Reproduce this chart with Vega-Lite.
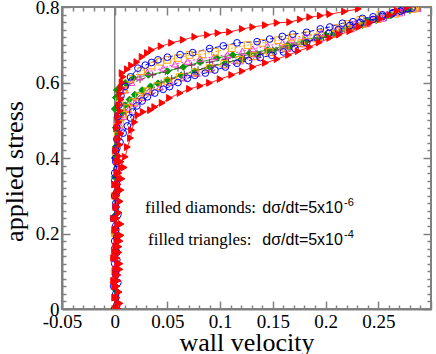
{
  "$schema": "https://vega.github.io/schema/vega-lite/v6.json",
  "width": 369,
  "height": 302,
  "autosize": {"type": "none"},
  "padding": {"left": 62, "top": 7, "right": 5, "bottom": 45},
  "background": "white",
  "config": {
    "view": {"stroke": "#808080", "strokeWidth": 2}
  },
  "datasets": {
    "curves": [
      {"s":"P","b":"u","x":0.000,"y":0.00},{"s":"P","b":"u","x":0.001,"y":0.15},{"s":"P","b":"u","x":0.000,"y":0.30},{"s":"P","b":"u","x":0.002,"y":0.45},{"s":"P","b":"u","x":0.003,"y":0.52},{"s":"P","b":"u","x":0.005,"y":0.56},{"s":"P","b":"u","x":0.008,"y":0.58},{"s":"P","b":"u","x":0.012,"y":0.593},{"s":"P","b":"u","x":0.024,"y":0.607},{"s":"P","b":"u","x":0.036,"y":0.620},{"s":"P","b":"u","x":0.048,"y":0.628},{"s":"P","b":"u","x":0.060,"y":0.638},{"s":"P","b":"u","x":0.073,"y":0.646},{"s":"P","b":"u","x":0.090,"y":0.654},{"s":"P","b":"u","x":0.105,"y":0.662},{"s":"P","b":"u","x":0.120,"y":0.670},{"s":"P","b":"u","x":0.135,"y":0.678},{"s":"P","b":"u","x":0.150,"y":0.687},{"s":"P","b":"u","x":0.165,"y":0.697},{"s":"P","b":"u","x":0.180,"y":0.708},{"s":"P","b":"u","x":0.195,"y":0.720},{"s":"P","b":"u","x":0.210,"y":0.733},{"s":"P","b":"u","x":0.225,"y":0.746},{"s":"P","b":"u","x":0.240,"y":0.760},{"s":"P","b":"u","x":0.255,"y":0.773},{"s":"P","b":"u","x":0.270,"y":0.786},
      {"s":"P","b":"d","x":0.275,"y":0.786},{"s":"P","b":"d","x":0.258,"y":0.772},{"s":"P","b":"d","x":0.243,"y":0.759},{"s":"P","b":"d","x":0.228,"y":0.745},{"s":"P","b":"d","x":0.213,"y":0.732},{"s":"P","b":"d","x":0.198,"y":0.720},{"s":"P","b":"d","x":0.183,"y":0.708},{"s":"P","b":"d","x":0.168,"y":0.696},{"s":"P","b":"d","x":0.153,"y":0.686},{"s":"P","b":"d","x":0.138,"y":0.675},{"s":"P","b":"d","x":0.123,"y":0.665},{"s":"P","b":"d","x":0.108,"y":0.655},{"s":"P","b":"d","x":0.093,"y":0.645},{"s":"P","b":"d","x":0.079,"y":0.634},{"s":"P","b":"d","x":0.066,"y":0.623},{"s":"P","b":"d","x":0.054,"y":0.611},{"s":"P","b":"d","x":0.044,"y":0.599},{"s":"P","b":"d","x":0.035,"y":0.586},{"s":"P","b":"d","x":0.027,"y":0.572},{"s":"P","b":"d","x":0.020,"y":0.557},{"s":"P","b":"d","x":0.014,"y":0.541},{"s":"P","b":"d","x":0.010,"y":0.523},{"s":"P","b":"d","x":0.006,"y":0.50},{"s":"P","b":"d","x":0.003,"y":0.47},{"s":"P","b":"d","x":0.001,"y":0.43},{"s":"P","b":"d","x":0.000,"y":0.30},{"s":"P","b":"d","x":0.001,"y":0.15},{"s":"P","b":"d","x":0.000,"y":0.00},
      {"s":"G","b":"u","x":0.000,"y":0.00},{"s":"G","b":"u","x":0.001,"y":0.10},{"s":"G","b":"u","x":0.000,"y":0.20},{"s":"G","b":"u","x":0.001,"y":0.30},{"s":"G","b":"u","x":0.000,"y":0.40},{"s":"G","b":"u","x":0.001,"y":0.48},{"s":"G","b":"u","x":0.000,"y":0.53},{"s":"G","b":"u","x":0.001,"y":0.56},{"s":"G","b":"u","x":0.002,"y":0.580},{"s":"G","b":"u","x":0.005,"y":0.588},{"s":"G","b":"u","x":0.010,"y":0.599},{"s":"G","b":"u","x":0.018,"y":0.612},{"s":"G","b":"u","x":0.032,"y":0.620},{"s":"G","b":"u","x":0.050,"y":0.630},{"s":"G","b":"u","x":0.065,"y":0.641},{"s":"G","b":"u","x":0.081,"y":0.654},{"s":"G","b":"u","x":0.097,"y":0.665},{"s":"G","b":"u","x":0.112,"y":0.673},{"s":"G","b":"u","x":0.128,"y":0.678},{"s":"G","b":"u","x":0.145,"y":0.686},{"s":"G","b":"u","x":0.164,"y":0.699},{"s":"G","b":"u","x":0.180,"y":0.712},{"s":"G","b":"u","x":0.200,"y":0.726},{"s":"G","b":"u","x":0.220,"y":0.745},{"s":"G","b":"u","x":0.240,"y":0.763},{"s":"G","b":"u","x":0.260,"y":0.778},{"s":"G","b":"u","x":0.280,"y":0.792},
      {"s":"G","b":"d","x":0.280,"y":0.792},{"s":"G","b":"d","x":0.262,"y":0.778},{"s":"G","b":"d","x":0.248,"y":0.765},{"s":"G","b":"d","x":0.235,"y":0.752},{"s":"G","b":"d","x":0.222,"y":0.740},{"s":"G","b":"d","x":0.208,"y":0.728},{"s":"G","b":"d","x":0.194,"y":0.716},{"s":"G","b":"d","x":0.180,"y":0.705},{"s":"G","b":"d","x":0.165,"y":0.694},{"s":"G","b":"d","x":0.150,"y":0.684},{"s":"G","b":"d","x":0.135,"y":0.673},{"s":"G","b":"d","x":0.120,"y":0.662},{"s":"G","b":"d","x":0.105,"y":0.652},{"s":"G","b":"d","x":0.090,"y":0.641},{"s":"G","b":"d","x":0.076,"y":0.630},{"s":"G","b":"d","x":0.063,"y":0.619},{"s":"G","b":"d","x":0.050,"y":0.607},{"s":"G","b":"d","x":0.041,"y":0.598},{"s":"G","b":"d","x":0.034,"y":0.590},{"s":"G","b":"d","x":0.026,"y":0.580},{"s":"G","b":"d","x":0.019,"y":0.568},{"s":"G","b":"d","x":0.014,"y":0.555},{"s":"G","b":"d","x":0.010,"y":0.540},{"s":"G","b":"d","x":0.007,"y":0.52},{"s":"G","b":"d","x":0.004,"y":0.50},{"s":"G","b":"d","x":0.002,"y":0.47},{"s":"G","b":"d","x":0.001,"y":0.43},{"s":"G","b":"d","x":0.000,"y":0.35},{"s":"G","b":"d","x":0.001,"y":0.25},{"s":"G","b":"d","x":0.000,"y":0.15},{"s":"G","b":"d","x":0.001,"y":0.05},{"s":"G","b":"d","x":0.000,"y":0.00},
      {"s":"M","b":"u","x":0.001,"y":0.00},{"s":"M","b":"u","x":0.000,"y":0.10},{"s":"M","b":"u","x":0.001,"y":0.20},{"s":"M","b":"u","x":0.000,"y":0.30},{"s":"M","b":"u","x":0.002,"y":0.40},{"s":"M","b":"u","x":0.003,"y":0.50},{"s":"M","b":"u","x":0.006,"y":0.55},{"s":"M","b":"u","x":0.010,"y":0.58},{"s":"M","b":"u","x":0.016,"y":0.600},{"s":"M","b":"u","x":0.023,"y":0.615},{"s":"M","b":"u","x":0.031,"y":0.628},{"s":"M","b":"u","x":0.046,"y":0.638},{"s":"M","b":"u","x":0.057,"y":0.649},{"s":"M","b":"u","x":0.069,"y":0.656},{"s":"M","b":"u","x":0.081,"y":0.663},{"s":"M","b":"u","x":0.094,"y":0.668},{"s":"M","b":"u","x":0.107,"y":0.674},{"s":"M","b":"u","x":0.121,"y":0.683},{"s":"M","b":"u","x":0.131,"y":0.689},{"s":"M","b":"u","x":0.145,"y":0.697},{"s":"M","b":"u","x":0.159,"y":0.705},{"s":"M","b":"u","x":0.168,"y":0.713},{"s":"M","b":"u","x":0.181,"y":0.722},{"s":"M","b":"u","x":0.196,"y":0.732},{"s":"M","b":"u","x":0.212,"y":0.745},{"s":"M","b":"u","x":0.228,"y":0.757},{"s":"M","b":"u","x":0.244,"y":0.768},{"s":"M","b":"u","x":0.258,"y":0.780},{"s":"M","b":"u","x":0.272,"y":0.790},{"s":"M","b":"u","x":0.287,"y":0.797},
      {"s":"M","b":"d","x":0.287,"y":0.797},{"s":"M","b":"d","x":0.270,"y":0.784},{"s":"M","b":"d","x":0.254,"y":0.770},{"s":"M","b":"d","x":0.239,"y":0.756},{"s":"M","b":"d","x":0.224,"y":0.742},{"s":"M","b":"d","x":0.209,"y":0.728},{"s":"M","b":"d","x":0.194,"y":0.715},{"s":"M","b":"d","x":0.179,"y":0.702},{"s":"M","b":"d","x":0.164,"y":0.690},{"s":"M","b":"d","x":0.149,"y":0.679},{"s":"M","b":"d","x":0.134,"y":0.668},{"s":"M","b":"d","x":0.119,"y":0.657},{"s":"M","b":"d","x":0.105,"y":0.646},{"s":"M","b":"d","x":0.091,"y":0.635},{"s":"M","b":"d","x":0.078,"y":0.624},{"s":"M","b":"d","x":0.065,"y":0.612},{"s":"M","b":"d","x":0.053,"y":0.600},{"s":"M","b":"d","x":0.043,"y":0.588},{"s":"M","b":"d","x":0.034,"y":0.574},{"s":"M","b":"d","x":0.026,"y":0.560},{"s":"M","b":"d","x":0.019,"y":0.545},{"s":"M","b":"d","x":0.013,"y":0.528},{"s":"M","b":"d","x":0.009,"y":0.510},{"s":"M","b":"d","x":0.005,"y":0.485},{"s":"M","b":"d","x":0.003,"y":0.455},{"s":"M","b":"d","x":0.001,"y":0.42},{"s":"M","b":"d","x":0.000,"y":0.33},{"s":"M","b":"d","x":0.001,"y":0.22},{"s":"M","b":"d","x":0.000,"y":0.11},{"s":"M","b":"d","x":0.000,"y":0.00},
      {"s":"O","b":"u","x":0.000,"y":0.00},{"s":"O","b":"u","x":0.001,"y":0.10},{"s":"O","b":"u","x":0.000,"y":0.20},{"s":"O","b":"u","x":0.001,"y":0.30},{"s":"O","b":"u","x":0.001,"y":0.40},{"s":"O","b":"u","x":0.002,"y":0.50},{"s":"O","b":"u","x":0.004,"y":0.55},{"s":"O","b":"u","x":0.008,"y":0.58},{"s":"O","b":"u","x":0.015,"y":0.61},{"s":"O","b":"u","x":0.025,"y":0.63},{"s":"O","b":"u","x":0.035,"y":0.645},{"s":"O","b":"u","x":0.043,"y":0.655},{"s":"O","b":"u","x":0.050,"y":0.660},{"s":"O","b":"u","x":0.060,"y":0.665},{"s":"O","b":"u","x":0.071,"y":0.673},{"s":"O","b":"u","x":0.083,"y":0.675},{"s":"O","b":"u","x":0.095,"y":0.681},{"s":"O","b":"u","x":0.111,"y":0.691},{"s":"O","b":"u","x":0.126,"y":0.699},{"s":"O","b":"u","x":0.140,"y":0.705},{"s":"O","b":"u","x":0.155,"y":0.712},{"s":"O","b":"u","x":0.168,"y":0.719},{"s":"O","b":"u","x":0.182,"y":0.725},{"s":"O","b":"u","x":0.195,"y":0.731},{"s":"O","b":"u","x":0.209,"y":0.744},{"s":"O","b":"u","x":0.221,"y":0.755},{"s":"O","b":"u","x":0.233,"y":0.766},{"s":"O","b":"u","x":0.252,"y":0.779},{"s":"O","b":"u","x":0.271,"y":0.792},{"s":"O","b":"u","x":0.285,"y":0.800},
      {"s":"O","b":"d","x":0.283,"y":0.795},{"s":"O","b":"d","x":0.266,"y":0.782},{"s":"O","b":"d","x":0.250,"y":0.768},{"s":"O","b":"d","x":0.236,"y":0.755},{"s":"O","b":"d","x":0.222,"y":0.742},{"s":"O","b":"d","x":0.207,"y":0.729},{"s":"O","b":"d","x":0.192,"y":0.716},{"s":"O","b":"d","x":0.177,"y":0.704},{"s":"O","b":"d","x":0.162,"y":0.692},{"s":"O","b":"d","x":0.147,"y":0.681},{"s":"O","b":"d","x":0.132,"y":0.670},{"s":"O","b":"d","x":0.118,"y":0.660},{"s":"O","b":"d","x":0.104,"y":0.649},{"s":"O","b":"d","x":0.090,"y":0.638},{"s":"O","b":"d","x":0.076,"y":0.627},{"s":"O","b":"d","x":0.062,"y":0.615},{"s":"O","b":"d","x":0.050,"y":0.603},{"s":"O","b":"d","x":0.040,"y":0.590},{"s":"O","b":"d","x":0.031,"y":0.577},{"s":"O","b":"d","x":0.023,"y":0.563},{"s":"O","b":"d","x":0.017,"y":0.548},{"s":"O","b":"d","x":0.012,"y":0.532},{"s":"O","b":"d","x":0.008,"y":0.515},{"s":"O","b":"d","x":0.005,"y":0.49},{"s":"O","b":"d","x":0.003,"y":0.46},{"s":"O","b":"d","x":0.001,"y":0.42},{"s":"O","b":"d","x":0.000,"y":0.30},{"s":"O","b":"d","x":0.001,"y":0.20},{"s":"O","b":"d","x":0.000,"y":0.10},{"s":"O","b":"d","x":0.001,"y":0.00},
      {"s":"B","b":"u","x":0.000,"y":0.00},{"s":"B","b":"u","x":0.001,"y":0.03},{"s":"B","b":"u","x":-0.001,"y":0.06},{"s":"B","b":"u","x":0.001,"y":0.09},{"s":"B","b":"u","x":0.000,"y":0.12},{"s":"B","b":"u","x":0.002,"y":0.15},{"s":"B","b":"u","x":0.000,"y":0.18},{"s":"B","b":"u","x":0.001,"y":0.21},{"s":"B","b":"u","x":-0.001,"y":0.24},{"s":"B","b":"u","x":0.001,"y":0.27},{"s":"B","b":"u","x":0.000,"y":0.30},{"s":"B","b":"u","x":0.002,"y":0.33},{"s":"B","b":"u","x":0.000,"y":0.36},{"s":"B","b":"u","x":0.001,"y":0.39},{"s":"B","b":"u","x":0.001,"y":0.42},{"s":"B","b":"u","x":0.002,"y":0.45},{"s":"B","b":"u","x":0.002,"y":0.48},{"s":"B","b":"u","x":0.003,"y":0.51},{"s":"B","b":"u","x":0.004,"y":0.54},{"s":"B","b":"u","x":0.006,"y":0.565},{"s":"B","b":"u","x":0.010,"y":0.59},{"s":"B","b":"u","x":0.015,"y":0.615},{"s":"B","b":"u","x":0.022,"y":0.638},{"s":"B","b":"u","x":0.029,"y":0.646},{"s":"B","b":"u","x":0.035,"y":0.653},{"s":"B","b":"u","x":0.041,"y":0.660},{"s":"B","b":"u","x":0.050,"y":0.667},{"s":"B","b":"u","x":0.062,"y":0.674},{"s":"B","b":"u","x":0.074,"y":0.679},{"s":"B","b":"u","x":0.090,"y":0.690},{"s":"B","b":"u","x":0.103,"y":0.697},{"s":"B","b":"u","x":0.116,"y":0.705},{"s":"B","b":"u","x":0.135,"y":0.708},{"s":"B","b":"u","x":0.147,"y":0.715},{"s":"B","b":"u","x":0.159,"y":0.722},{"s":"B","b":"u","x":0.169,"y":0.728},{"s":"B","b":"u","x":0.182,"y":0.733},{"s":"B","b":"u","x":0.195,"y":0.742},{"s":"B","b":"u","x":0.204,"y":0.747},{"s":"B","b":"u","x":0.216,"y":0.757},{"s":"B","b":"u","x":0.226,"y":0.761},{"s":"B","b":"u","x":0.235,"y":0.770},{"s":"B","b":"u","x":0.245,"y":0.774},{"s":"B","b":"u","x":0.254,"y":0.779},{"s":"B","b":"u","x":0.264,"y":0.785},{"s":"B","b":"u","x":0.273,"y":0.792},{"s":"B","b":"u","x":0.282,"y":0.797},
      {"s":"B","b":"d","x":0.278,"y":0.796},{"s":"B","b":"d","x":0.271,"y":0.789},{"s":"B","b":"d","x":0.263,"y":0.782},{"s":"B","b":"d","x":0.254,"y":0.775},{"s":"B","b":"d","x":0.245,"y":0.767},{"s":"B","b":"d","x":0.233,"y":0.759},{"s":"B","b":"d","x":0.223,"y":0.751},{"s":"B","b":"d","x":0.212,"y":0.740},{"s":"B","b":"d","x":0.203,"y":0.730},{"s":"B","b":"d","x":0.192,"y":0.718},{"s":"B","b":"d","x":0.182,"y":0.705},{"s":"B","b":"d","x":0.171,"y":0.690},{"s":"B","b":"d","x":0.160,"y":0.681},{"s":"B","b":"d","x":0.149,"y":0.672},{"s":"B","b":"d","x":0.138,"y":0.666},{"s":"B","b":"d","x":0.127,"y":0.658},{"s":"B","b":"d","x":0.116,"y":0.651},{"s":"B","b":"d","x":0.105,"y":0.641},{"s":"B","b":"d","x":0.095,"y":0.633},{"s":"B","b":"d","x":0.086,"y":0.625},{"s":"B","b":"d","x":0.076,"y":0.619},{"s":"B","b":"d","x":0.069,"y":0.611},{"s":"B","b":"d","x":0.060,"y":0.600},{"s":"B","b":"d","x":0.052,"y":0.589},{"s":"B","b":"d","x":0.046,"y":0.582},{"s":"B","b":"d","x":0.038,"y":0.572},{"s":"B","b":"d","x":0.031,"y":0.562},{"s":"B","b":"d","x":0.026,"y":0.551},{"s":"B","b":"d","x":0.021,"y":0.538},{"s":"B","b":"d","x":0.017,"y":0.522},{"s":"B","b":"d","x":0.015,"y":0.506},{"s":"B","b":"d","x":0.012,"y":0.485},{"s":"B","b":"d","x":0.008,"y":0.466},{"s":"B","b":"d","x":0.005,"y":0.442},{"s":"B","b":"d","x":0.002,"y":0.426},{"s":"B","b":"d","x":0.001,"y":0.40},{"s":"B","b":"d","x":0.002,"y":0.37},{"s":"B","b":"d","x":0.000,"y":0.34},{"s":"B","b":"d","x":0.002,"y":0.31},{"s":"B","b":"d","x":0.001,"y":0.28},{"s":"B","b":"d","x":0.003,"y":0.25},{"s":"B","b":"d","x":0.001,"y":0.22},{"s":"B","b":"d","x":0.002,"y":0.19},{"s":"B","b":"d","x":0.000,"y":0.16},{"s":"B","b":"d","x":0.002,"y":0.13},{"s":"B","b":"d","x":0.001,"y":0.10},{"s":"B","b":"d","x":0.003,"y":0.07},{"s":"B","b":"d","x":0.001,"y":0.04},{"s":"B","b":"d","x":0.002,"y":0.01},
      {"s":"R","b":"u","x":0.001,"y":0.000},{"s":"R","b":"u","x":0.003,"y":0.015},{"s":"R","b":"u","x":0.000,"y":0.030},{"s":"R","b":"u","x":0.004,"y":0.045},{"s":"R","b":"u","x":0.002,"y":0.060},{"s":"R","b":"u","x":-0.001,"y":0.075},{"s":"R","b":"u","x":0.003,"y":0.090},{"s":"R","b":"u","x":0.001,"y":0.105},{"s":"R","b":"u","x":0.005,"y":0.120},{"s":"R","b":"u","x":0.002,"y":0.135},{"s":"R","b":"u","x":0.000,"y":0.150},{"s":"R","b":"u","x":0.004,"y":0.165},{"s":"R","b":"u","x":0.002,"y":0.180},{"s":"R","b":"u","x":0.006,"y":0.195},{"s":"R","b":"u","x":0.001,"y":0.210},{"s":"R","b":"u","x":0.003,"y":0.225},{"s":"R","b":"u","x":-0.001,"y":0.240},{"s":"R","b":"u","x":0.004,"y":0.255},{"s":"R","b":"u","x":0.002,"y":0.270},{"s":"R","b":"u","x":0.005,"y":0.285},{"s":"R","b":"u","x":0.001,"y":0.300},{"s":"R","b":"u","x":0.003,"y":0.315},{"s":"R","b":"u","x":0.000,"y":0.330},{"s":"R","b":"u","x":0.004,"y":0.345},{"s":"R","b":"u","x":0.002,"y":0.360},{"s":"R","b":"u","x":0.006,"y":0.375},{"s":"R","b":"u","x":0.002,"y":0.390},{"s":"R","b":"u","x":0.004,"y":0.405},{"s":"R","b":"u","x":0.001,"y":0.420},{"s":"R","b":"u","x":0.005,"y":0.435},{"s":"R","b":"u","x":0.003,"y":0.450},{"s":"R","b":"u","x":0.006,"y":0.465},{"s":"R","b":"u","x":0.002,"y":0.480},{"s":"R","b":"u","x":0.004,"y":0.495},{"s":"R","b":"u","x":0.003,"y":0.510},{"s":"R","b":"u","x":0.005,"y":0.525},{"s":"R","b":"u","x":0.004,"y":0.540},{"s":"R","b":"u","x":0.006,"y":0.555},{"s":"R","b":"u","x":0.005,"y":0.570},{"s":"R","b":"u","x":0.006,"y":0.585},{"s":"R","b":"u","x":0.007,"y":0.600},{"s":"R","b":"u","x":0.008,"y":0.615},{"s":"R","b":"u","x":0.007,"y":0.625},{"s":"R","b":"u","x":0.012,"y":0.635},{"s":"R","b":"u","x":0.016,"y":0.645},{"s":"R","b":"u","x":0.021,"y":0.654},{"s":"R","b":"u","x":0.026,"y":0.668},{"s":"R","b":"u","x":0.031,"y":0.678},{"s":"R","b":"u","x":0.035,"y":0.686},{"s":"R","b":"u","x":0.044,"y":0.696},{"s":"R","b":"u","x":0.054,"y":0.705},{"s":"R","b":"u","x":0.065,"y":0.713},{"s":"R","b":"u","x":0.076,"y":0.721},{"s":"R","b":"u","x":0.088,"y":0.726},{"s":"R","b":"u","x":0.098,"y":0.731},{"s":"R","b":"u","x":0.109,"y":0.734},{"s":"R","b":"u","x":0.121,"y":0.742},{"s":"R","b":"u","x":0.131,"y":0.747},{"s":"R","b":"u","x":0.143,"y":0.752},{"s":"R","b":"u","x":0.154,"y":0.758},{"s":"R","b":"u","x":0.166,"y":0.760},{"s":"R","b":"u","x":0.176,"y":0.767},{"s":"R","b":"u","x":0.185,"y":0.773},{"s":"R","b":"u","x":0.195,"y":0.777},{"s":"R","b":"u","x":0.204,"y":0.781},{"s":"R","b":"u","x":0.218,"y":0.788},{"s":"R","b":"u","x":0.231,"y":0.795},
      {"s":"R","b":"d","x":0.278,"y":0.800},{"s":"R","b":"d","x":0.268,"y":0.790},{"s":"R","b":"d","x":0.261,"y":0.779},{"s":"R","b":"d","x":0.252,"y":0.768},{"s":"R","b":"d","x":0.242,"y":0.758},{"s":"R","b":"d","x":0.232,"y":0.747},{"s":"R","b":"d","x":0.223,"y":0.736},{"s":"R","b":"d","x":0.213,"y":0.727},{"s":"R","b":"d","x":0.204,"y":0.718},{"s":"R","b":"d","x":0.194,"y":0.706},{"s":"R","b":"d","x":0.185,"y":0.694},{"s":"R","b":"d","x":0.174,"y":0.683},{"s":"R","b":"d","x":0.165,"y":0.673},{"s":"R","b":"d","x":0.154,"y":0.662},{"s":"R","b":"d","x":0.143,"y":0.652},{"s":"R","b":"d","x":0.131,"y":0.641},{"s":"R","b":"d","x":0.121,"y":0.630},{"s":"R","b":"d","x":0.111,"y":0.620},{"s":"R","b":"d","x":0.100,"y":0.609},{"s":"R","b":"d","x":0.090,"y":0.599},{"s":"R","b":"d","x":0.081,"y":0.591},{"s":"R","b":"d","x":0.071,"y":0.583},{"s":"R","b":"d","x":0.062,"y":0.572},{"s":"R","b":"d","x":0.052,"y":0.559},{"s":"R","b":"d","x":0.045,"y":0.546},{"s":"R","b":"d","x":0.038,"y":0.535},{"s":"R","b":"d","x":0.034,"y":0.527},{"s":"R","b":"d","x":0.027,"y":0.522},{"s":"R","b":"d","x":0.022,"y":0.514},{"s":"R","b":"d","x":0.019,"y":0.495},{"s":"R","b":"d","x":0.016,"y":0.474},{"s":"R","b":"d","x":0.015,"y":0.453},{"s":"R","b":"d","x":0.012,"y":0.429},{"s":"R","b":"d","x":0.010,"y":0.403},{"s":"R","b":"d","x":0.006,"y":0.390},{"s":"R","b":"d","x":0.009,"y":0.375},{"s":"R","b":"d","x":0.004,"y":0.360},{"s":"R","b":"d","x":0.007,"y":0.345},{"s":"R","b":"d","x":0.003,"y":0.330},{"s":"R","b":"d","x":0.006,"y":0.315},{"s":"R","b":"d","x":0.002,"y":0.300},{"s":"R","b":"d","x":0.005,"y":0.285},{"s":"R","b":"d","x":0.001,"y":0.270},{"s":"R","b":"d","x":0.004,"y":0.255},{"s":"R","b":"d","x":0.002,"y":0.240},{"s":"R","b":"d","x":0.006,"y":0.225},{"s":"R","b":"d","x":0.000,"y":0.210},{"s":"R","b":"d","x":0.003,"y":0.195},{"s":"R","b":"d","x":0.005,"y":0.180},{"s":"R","b":"d","x":0.001,"y":0.165},{"s":"R","b":"d","x":0.004,"y":0.150},{"s":"R","b":"d","x":-0.001,"y":0.135},{"s":"R","b":"d","x":0.003,"y":0.120},{"s":"R","b":"d","x":0.005,"y":0.105},{"s":"R","b":"d","x":0.001,"y":0.090},{"s":"R","b":"d","x":0.003,"y":0.075},{"s":"R","b":"d","x":0.000,"y":0.060},{"s":"R","b":"d","x":0.004,"y":0.045},{"s":"R","b":"d","x":0.002,"y":0.030},{"s":"R","b":"d","x":0.005,"y":0.015},{"s":"R","b":"d","x":0.003,"y":0.000}
    ]
  },
  "resolve": {"axis": {"x": "independent", "y": "independent"}},
  "layer": [
    {
      "data": {"values": [{}]},
      "mark": {"type": "rule", "color": "#808080", "strokeWidth": 1.5},
      "encoding": {"x": {"datum": 0, "type": "quantitative", "axis": null}}
    },
    {
      "data": {"name": "curves"},
      "mark": {"type": "line", "strokeWidth": 1, "clip": true},
      "encoding": {
        "x": {"field": "x", "type": "quantitative", "scale": {"domain": [-0.05, 0.3], "nice": false, "zero": false},
          "axis": {"orient": "bottom", "title": "wall velocity", "titlePadding": -6, "grid": false,
            "labelFont": "Liberation Serif", "labelFontSize": 19, "labelColor": "black", "titleFont": "Liberation Serif", "titleFontSize": 26, "titleFontWeight": "normal", "titleColor": "black",
            "domainColor": "#808080", "domainWidth": 2, "tickColor": "#808080", "tickWidth": 1.5, "labelOverlap": false, "labelFlush": false, "labelBound": false,
            "values": [-0.05,-0.04,-0.03,-0.02,-0.01,0,0.01,0.02,0.03,0.04,0.05,0.06,0.07,0.08,0.09,0.1,0.11,0.12,0.13,0.14,0.15,0.16,0.17,0.18,0.19,0.2,0.21,0.22,0.23,0.24,0.25,0.26,0.27,0.28,0.29,0.3],
            "labelExpr": "abs(datum.value*20 - round(datum.value*20)) < 0.001 && datum.value < 0.29 ? (datum.value < 0 ? '-0.05' : format(datum.value, '~g')) : ''",
            "tickSize": {"condition": {"test": "abs(datum.value*20 - round(datum.value*20)) < 0.001", "value": -8}, "value": -4},
            "labelPadding": 11,
            "encode": {"labels": {"update": {"font": {"value": "Liberation Serif"}, "fontSize": {"value": 19}}}}}},
        "y": {"field": "y", "type": "quantitative", "scale": {"domain": [0, 0.8], "nice": false, "zero": false},
          "axis": {"orient": "left", "title": "applied stress", "titlePadding": 8, "titleY": 164, "grid": false,
            "labelFont": "Liberation Serif", "labelFontSize": 19, "labelColor": "black", "titleFont": "Liberation Serif", "titleFontSize": 26, "titleFontWeight": "normal", "titleColor": "black",
            "domainColor": "#808080", "domainWidth": 2, "tickColor": "#808080", "tickWidth": 1.5, "labelOverlap": false, "labelFlush": false, "labelBound": false,
            "values": [0,0.02,0.04,0.06,0.08,0.1,0.12,0.14,0.16,0.18,0.2,0.22,0.24,0.26,0.28,0.3,0.32,0.34,0.36,0.38,0.4,0.42,0.44,0.46,0.48,0.5,0.52,0.54,0.56,0.58,0.6,0.62,0.64,0.66,0.68,0.7,0.72,0.74,0.76,0.78,0.8],
            "labelExpr": "abs(datum.value*5 - round(datum.value*5)) < 0.001 ? format(datum.value, '~g') : ''",
            "tickSize": {"condition": {"test": "abs(datum.value*5 - round(datum.value*5)) < 0.001", "value": -8}, "value": -4},
            "labelPadding": 11,
            "encode": {"labels": {"update": {"font": {"value": "Liberation Serif"}, "fontSize": {"value": 19}}}}}},
        "color": {"field": "s", "type": "nominal", "legend": null, "scale": {"domain": ["P","G","M","O","B","R"], "range": ["#7f2b5f","#009900","#ff33cc","#ffa500","#0000ff","#ff0000"]}},
        "strokeDash": {"field": "s", "type": "nominal", "legend": null, "scale": {"domain": ["P","G","M","O","B","R"], "range": [[6,2,2,2],[1,0],[2,2],[2,2],[5,3],[1,0]]}},
        "detail": {"field": "b"},
        "order": {"field": "y", "type": "quantitative"}
      }
    },
    {
      "data": {"name": "curves"},
      "mark": {"type": "point", "filled": true, "strokeWidth": 1, "opacity": 1, "clip": true},
      "encoding": {
        "x": {"field": "x", "type": "quantitative",
          "axis": {"orient": "top", "title": null, "labels": false, "domain": false, "grid": false, "tickColor": "#808080", "tickWidth": 1.5,
            "values": [-0.05,-0.04,-0.03,-0.02,-0.01,0,0.01,0.02,0.03,0.04,0.05,0.06,0.07,0.08,0.09,0.1,0.11,0.12,0.13,0.14,0.15,0.16,0.17,0.18,0.19,0.2,0.21,0.22,0.23,0.24,0.25,0.26,0.27,0.28,0.29,0.3],
            "tickSize": {"condition": {"test": "abs(datum.value*20 - round(datum.value*20)) < 0.001", "value": -8}, "value": -4}}},
        "y": {"field": "y", "type": "quantitative",
          "axis": {"orient": "right", "title": null, "labels": false, "domain": false, "grid": false, "tickColor": "#808080", "tickWidth": 1.5,
            "values": [0,0.02,0.04,0.06,0.08,0.1,0.12,0.14,0.16,0.18,0.2,0.22,0.24,0.26,0.28,0.3,0.32,0.34,0.36,0.38,0.4,0.42,0.44,0.46,0.48,0.5,0.52,0.54,0.56,0.58,0.6,0.62,0.64,0.66,0.68,0.7,0.72,0.74,0.76,0.78,0.8],
            "tickSize": {"condition": {"test": "abs(datum.value*5 - round(datum.value*5)) < 0.001", "value": -8}, "value": -4}}},
        "shape": {"field": "s", "type": "nominal", "legend": null, "scale": {"domain": ["P","G","M","O","B","R"], "range": ["M-1,0L1,0M0,-1L0,1","diamond","triangle-up","square","circle","triangle-right"]}},
        "fill": {"field": "s", "type": "nominal", "legend": null, "scale": {"domain": ["P","G","M","O","B","R"], "range": ["transparent","#009900","transparent","transparent","transparent","#ff0000"]}},
        "stroke": {"field": "s", "type": "nominal", "legend": null, "scale": {"domain": ["P","G","M","O","B","R"], "range": ["#7f2b5f","#009900","#ff33cc","#ffa500","#0000ff","#ff0000"]}},
        "size": {"field": "s", "type": "nominal", "legend": null, "scale": {"domain": ["P","G","M","O","B","R"], "range": [45,45,55,50,42,65]}}
      }
    },
    {
      "data": {"values": [{}]},
      "mark": {"type": "text", "font": "Liberation Serif", "fontSize": 17, "align": "left", "baseline": "alphabetic", "color": "black"},
      "encoding": {"x": {"datum": 0.0288, "type": "quantitative", "axis": null}, "y": {"datum": 0.254, "type": "quantitative", "axis": null}, "text": {"value": "filled diamonds:"}}
    },
    {
      "data": {"values": [{}]},
      "mark": {"type": "text", "font": "Liberation Serif", "fontSize": 17, "align": "left", "baseline": "alphabetic", "color": "black"},
      "encoding": {"x": {"datum": 0.0316, "type": "quantitative", "axis": null}, "y": {"datum": 0.170, "type": "quantitative", "axis": null}, "text": {"value": "filled triangles:"}}
    },
    {
      "data": {"values": [{}]},
      "mark": {"type": "text", "font": "Liberation Sans", "fontSize": 16, "align": "left", "baseline": "alphabetic", "color": "black"},
      "encoding": {"x": {"datum": 0.140, "type": "quantitative", "axis": null}, "y": {"datum": 0.254, "type": "quantitative", "axis": null}, "text": {"value": "dσ/dt=5x10"}}
    },
    {
      "data": {"values": [{}]},
      "mark": {"type": "text", "font": "Liberation Sans", "fontSize": 16, "align": "left", "baseline": "alphabetic", "color": "black"},
      "encoding": {"x": {"datum": 0.140, "type": "quantitative", "axis": null}, "y": {"datum": 0.170, "type": "quantitative", "axis": null}, "text": {"value": "dσ/dt=5x10"}}
    },
    {
      "data": {"values": [{}]},
      "mark": {"type": "text", "font": "Liberation Sans", "fontSize": 11, "align": "left", "baseline": "alphabetic", "color": "black"},
      "encoding": {"x": {"datum": 0.2175, "type": "quantitative", "axis": null}, "y": {"datum": 0.273, "type": "quantitative", "axis": null}, "text": {"value": "-6"}}
    },
    {
      "data": {"values": [{}]},
      "mark": {"type": "text", "font": "Liberation Sans", "fontSize": 11, "align": "left", "baseline": "alphabetic", "color": "black"},
      "encoding": {"x": {"datum": 0.2175, "type": "quantitative", "axis": null}, "y": {"datum": 0.189, "type": "quantitative", "axis": null}, "text": {"value": "-4"}}
    }
  ]
}
